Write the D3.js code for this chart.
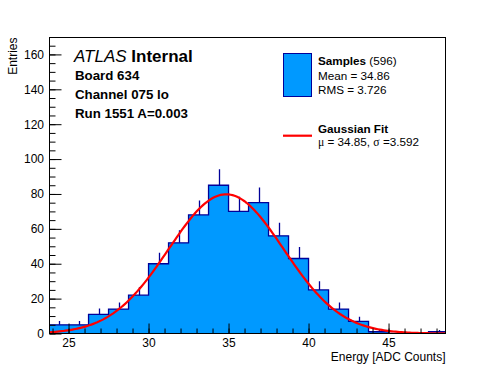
<!DOCTYPE html>
<html>
<head>
<meta charset="utf-8">
<script src="https://cdn.jsdelivr.net/npm/d3@7/dist/d3.min.js"></script>
<style>
  body { margin: 0; background: #fff; }
  svg { font-family: "Liberation Sans", Arial, Helvetica, sans-serif; }
</style>
</head>
<body>
<svg width="496" height="372"></svg>
<script>
// histogram bin edges [ADC counts] and entries per bin
const binEdges = [23.75, 25, 26.25, 27.5, 28.75, 30, 31.25, 32.5, 33.75, 35, 36.25,
  37.5, 38.75, 40, 41.25, 42.5, 43.75, 45, 46.25, 47.5, 48.75];
const binCounts = [5, 5, 11, 14, 22, 40, 52, 68, 85, 70, 75, 56, 43, 25, 14, 7, 1, 0, 0, 1];

const xTicks = [25, 30, 35, 40, 45];
const yTicks = [0, 20, 40, 60, 80, 100, 120, 140, 160];

// fit + sample stats (as printed in the legend)
const fitMean = 34.85;
const fitSigma = 3.592;
const fitPeak = 79.8;
const sampleCount = 596;
const sampleMean = 34.86;
const sampleRms = 3.726;

const infoLines = ["Board 634", "Channel 075 lo", "Run 1551 A=0.003"];

const fillColor = "#0099ff";
const lineColor = "#000099";

// frame edges ("top" clashes with window.top, so prefix everything)
const padLeft = 49.5, padRight = 445.5, padTop = 37.5, padBottom = 333.5;

const svg = d3.select("svg");

const x = d3.scaleLinear().domain([23.81, 48.56]).range([padLeft, padRight]);
const y = d3.scaleLinear().domain([0, 169.7]).range([padBottom, padTop]);

svg.append("defs").append("clipPath").attr("id", "plot")
  .append("rect")
  .attr("x", padLeft).attr("y", padTop)
  .attr("width", padRight - padLeft).attr("height", padBottom - padTop);

const bins = binCounts.map((c, i) => ({ x0: binEdges[i], x1: binEdges[i + 1], n: c }));

const plot = svg.append("g").attr("clip-path", "url(#plot)");

// step outline points, used for both the fill and the line
const stepPts = [[bins[0].x0, 0]];
bins.forEach(d => { stepPts.push([d.x0, d.n]); stepPts.push([d.x1, d.n]); });
stepPts.push([bins[bins.length - 1].x1, 0]);

const stepLine = d3.line().x(p => x(p[0])).y(p => y(p[1]));

// one filled shape, so no seams between bars
plot.append("path")
  .attr("d", stepLine(stepPts) + "Z")
  .attr("fill", fillColor);

plot.append("path")
  .attr("d", stepLine(stepPts))
  .attr("fill", "none")
  .attr("stroke", lineColor)
  .attr("stroke-width", 1.3);

// error bars (sqrt N, upper half only shows)
plot.append("g")
  .selectAll("line")
  .data(bins.filter(d => d.n > 0))
  .enter().append("line")
  .attr("x1", d => Math.round(x((d.x0 + d.x1) / 2)) + 0.5)
  .attr("x2", d => Math.round(x((d.x0 + d.x1) / 2)) + 0.5)
  .attr("y1", d => y(d.n))
  .attr("y2", d => y(d.n + Math.sqrt(d.n)))
  .attr("stroke", lineColor)
  .attr("stroke-width", 1.3);

// gaussian fit curve
const gaus = v => fitPeak * Math.exp(-0.5 * ((v - fitMean) / fitSigma) ** 2);
const fitX = d3.range(200).map(i => x.domain()[0] + i * (x.domain()[1] - x.domain()[0]) / 199);

plot.append("path")
  .attr("d", d3.line().x(v => x(v)).y(v => y(gaus(v)))(fitX))
  .attr("fill", "none")
  .attr("stroke", "#ff0000")
  .attr("stroke-width", 2.2);

// axes, ROOT style ticks pointing inwards
svg.append("g")
  .attr("transform", `translate(0,${padBottom})`)
  .call(d3.axisBottom(x).tickValues(xTicks).tickSize(-10).tickPadding(5).tickSizeOuter(0));
svg.append("g")
  .attr("transform", `translate(0,${padBottom})`)
  .call(d3.axisBottom(x).tickValues(d3.range(24, 49, 1)).tickSize(-5).tickFormat("").tickSizeOuter(0));

svg.append("g")
  .attr("transform", `translate(${padLeft},0)`)
  .call(d3.axisLeft(y).tickValues(yTicks).tickSize(-12).tickPadding(5.5).tickSizeOuter(0));
svg.append("g")
  .attr("transform", `translate(${padLeft},0)`)
  .call(d3.axisLeft(y).tickValues(d3.range(0, 170, 5)).tickSize(-6).tickFormat("").tickSizeOuter(0));

svg.selectAll(".domain").remove();
svg.selectAll(".tick line").attr("stroke", "#000");
svg.selectAll(".tick text")
  .attr("fill", "#000")
  .style("font-size", "12px")
  .style("font-family", "'Liberation Sans', Arial, sans-serif");

// frame
svg.append("rect")
  .attr("x", padLeft).attr("y", padTop)
  .attr("width", padRight - padLeft).attr("height", padBottom - padTop)
  .attr("fill", "none")
  .attr("stroke", "#000");

// axis titles
svg.append("text")
  .attr("x", padRight).attr("y", 360.5)
  .attr("text-anchor", "end")
  .style("font-size", "12px")
  .text("Energy [ADC Counts]");

svg.append("text")
  .attr("transform", `translate(17,${padTop}) rotate(-90)`)
  .attr("text-anchor", "end")
  .style("font-size", "12px")
  .text("Entries");

// ATLAS label block
const atlas = svg.append("text")
  .attr("x", 74).attr("y", 62)
  .style("font-size", "17px");
atlas.append("tspan").style("font-style", "italic").text("ATLAS ");
atlas.append("tspan").style("font-weight", "bold").text("Internal");

svg.append("g")
  .selectAll("text")
  .data(infoLines)
  .enter().append("text")
  .attr("x", 75)
  .attr("y", (d, i) => [80, 98.5, 118][i])
  .style("font-size", "13.3px")
  .style("font-weight", "bold")
  .text(d => d);

// legend
const leg = svg.append("g");
leg.append("rect")
  .attr("x", 283.5).attr("y", 53.5)
  .attr("width", 28).attr("height", 43)
  .attr("fill", fillColor)
  .attr("stroke", lineColor);

const s1 = leg.append("text").attr("x", 318).attr("y", 65).style("font-size", "11.7px");
s1.append("tspan").style("font-weight", "bold").text("Samples");
s1.append("tspan").text(` (${sampleCount})`);
leg.append("text").attr("x", 318).attr("y", 80).style("font-size", "11.7px")
  .text(`Mean = ${sampleMean.toFixed(2)}`);
leg.append("text").attr("x", 318).attr("y", 93.5).style("font-size", "11.7px")
  .text(`RMS = ${sampleRms.toFixed(3)}`);

leg.append("line")
  .attr("x1", 283).attr("x2", 312)
  .attr("y1", 135.7).attr("y2", 135.7)
  .attr("stroke", "#ff0000")
  .attr("stroke-width", 2.2);

leg.append("text").attr("x", 318).attr("y", 133).style("font-size", "11.7px")
  .style("font-weight", "bold").text("Gaussian Fit");
const s2 = leg.append("text").attr("x", 318).attr("y", 146).style("font-size", "11.7px");
s2.append("tspan").style("font-family", "'Liberation Serif', serif").text("\u03bc");
s2.append("tspan").text(` = ${fitMean.toFixed(2)}, `);
s2.append("tspan").style("font-family", "'Liberation Serif', serif").text("\u03c3");
s2.append("tspan").text(` =${fitSigma.toFixed(3)}`);
</script>
</body>
</html>
